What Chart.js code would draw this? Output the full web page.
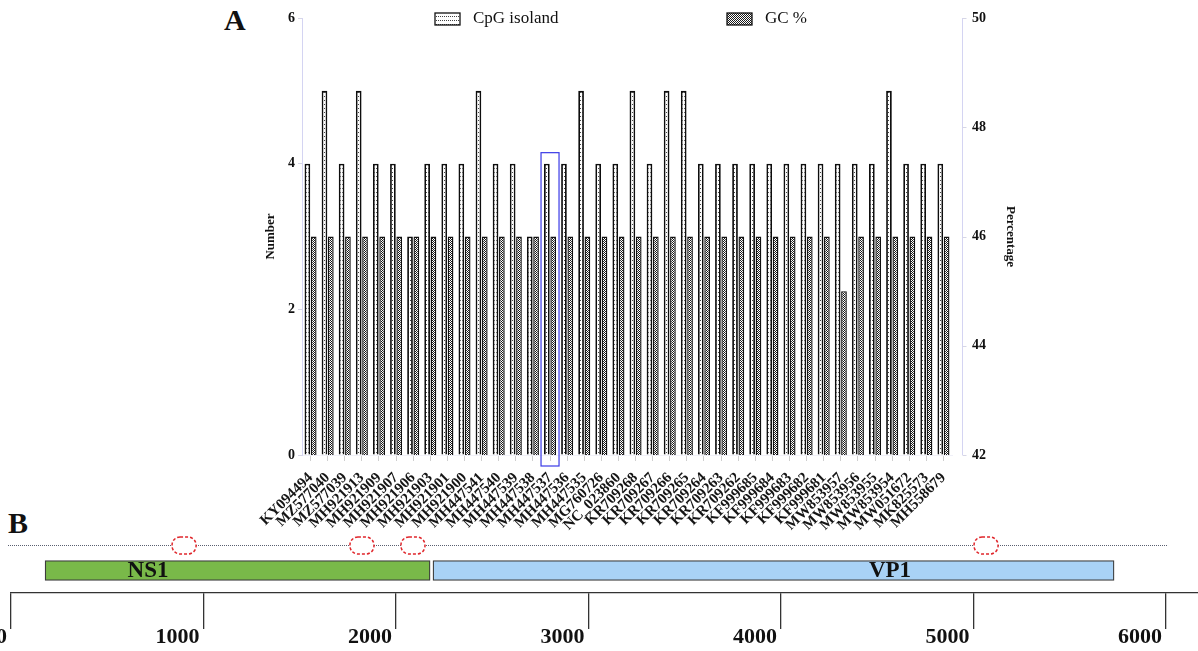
<!DOCTYPE html>
<html>
<head>
<meta charset="utf-8">
<script src="https://cdn.jsdelivr.net/npm/chart.js@4.4.1/dist/chart.umd.min.js"></script>
<style>
  html, body { margin: 0; padding: 0; background: #fff; }
  body { width: 1198px; height: 651px; position: relative; overflow: hidden; }
  .panel { position: absolute; left: 0; }
  .tag { position: absolute; font-family: 'Liberation Serif', 'Times New Roman', serif; font-weight: bold; font-size: 30px; color: #111; }
</style>
</head>
<body>
<div class="tag" style="left:224px; top:3px;">A</div>
<div class="tag" style="left:8px; top:506px;">B</div>
<div class="panel" style="top:0;"><canvas id="chartA" width="1198" height="540"></canvas></div>
<div class="panel" style="top:530px;"><canvas id="chartB" width="1198" height="121"></canvas></div>
<script>
// panel A: CpG islands and GC content per genome
const accessions = [
  'KY094494', 'MZ577040', 'MZ577039', 'MH921913', 'MH921909', 'MH921907', 'MH921906', 'MH921903',
  'MH921901', 'MH921900', 'MH447541', 'MH447540', 'MH447539', 'MH447538', 'MH447537', 'MH447536',
  'MH447535', 'MG760726', 'NC_023860', 'KR709268', 'KR709267', 'KR709266', 'KR709265', 'KR709264',
  'KR709263', 'KR709262', 'KF999685', 'KF999684', 'KF999683', 'KF999682', 'KF999681', 'MW853957',
  'MW853956', 'MW853955', 'MW853954', 'MW051672', 'MK825573', 'MH558679'
];
const cpgIslands = [4, 5, 4, 5, 4, 4, 3, 4, 4, 4, 5, 4, 4, 3, 4, 4, 5, 4, 4, 5, 4, 5, 5, 4, 4, 4, 4, 4, 4, 4, 4, 4, 4, 4, 5, 4, 4, 4];
const gcPercent = [46, 46, 46, 46, 46, 46, 46, 46, 46, 46, 46, 46, 46, 46, 46, 46, 46, 46, 46, 46, 46, 46, 46, 46, 46, 46, 46, 46, 46, 46, 46, 45, 46, 46, 46, 46, 46, 46];
const numberTicks = [0, 2, 4, 6];
const percentTicks = [42, 44, 46, 48, 50];
const highlightIndex = 14;

// panel B: genome map
const genes = ['NS1', 'VP1'];
const geneStart = [177, 2192];
const geneEnd = [2177, 5730];
const geneLabelAt = [712, 4566];
const islandSites = [899, 1823, 2088, 5065];
const genomeTicks = [0, 1000, 2000, 3000, 4000, 5000, 6000];

Chart.defaults.font.family = "'Liberation Serif', 'Times New Roman', serif";
Chart.defaults.color = '#111';

function makePattern(size, draw) {
  const c = document.createElement('canvas');
  c.width = size[0];
  c.height = size[1];
  const g = c.getContext('2d');
  g.fillStyle = '#fff';
  g.fillRect(0, 0, c.width, c.height);
  draw(g);
  return document.getElementById('chartA').getContext('2d').createPattern(c, 'repeat');
}

const dotted = makePattern([2, 4], (g) => { g.fillStyle = '#444'; g.fillRect(0, 0, 1, 1); });
const checked = makePattern([2, 2], (g) => { g.fillStyle = '#1a1a1a'; g.fillRect(0, 0, 1, 1); g.fillRect(1, 1, 1, 1); });

const legendItems = [
  { text: 'CpG isoland', fill: dotted, at: 133 },
  { text: 'GC %', fill: checked, at: 425 },
];
const rightAxisGap = 10;

const panelExtras = {
  id: 'panelExtras',
  afterDatasetsDraw(chart) {
    const { ctx, chartArea, scales } = chart;
    ctx.save();
    // right axis line sits a little away from the last bars
    const ax = chartArea.right + rightAxisGap + 0.5;
    ctx.strokeStyle = '#d4d4f2';
    ctx.lineWidth = 1;
    ctx.beginPath();
    ctx.moveTo(ax, chartArea.top);
    ctx.lineTo(ax, chartArea.bottom);
    ctx.stroke();
    ctx.strokeStyle = '#d6d6e6';
    percentTicks.forEach((v) => {
      const py = Math.round(scales.y1.getPixelForValue(v)) + 0.5;
      ctx.beginPath();
      ctx.moveTo(ax, py);
      ctx.lineTo(ax + 4, py);
      ctx.stroke();
    });
    // blue frame round the highlighted genome
    const el = chart.getDatasetMeta(0).data[highlightIndex];
    const cx = scales.x.getPixelForValue(highlightIndex);
    ctx.strokeStyle = '#3a3ae6';
    ctx.lineWidth = 1.2;
    ctx.strokeRect(cx - 9, el.y - 11, 18, chartArea.bottom + 11 - (el.y - 11));
    // legend
    ctx.font = "17px 'Liberation Serif', 'Times New Roman', serif";
    ctx.textBaseline = 'middle';
    legendItems.forEach((item) => {
      const x = chartArea.left + item.at;
      const y = chartArea.top - 5;
      ctx.fillStyle = item.fill;
      ctx.fillRect(x, y, 25, 12);
      ctx.strokeStyle = '#111';
      ctx.lineWidth = 1.3;
      ctx.strokeRect(x, y, 25, 12);
      ctx.fillStyle = '#111';
      ctx.fillText(item.text, x + 38, chartArea.top + 1);
    });
    ctx.restore();
  },
};

new Chart(document.getElementById('chartA'), {
  type: 'bar',
  data: {
    labels: accessions,
    datasets: [
      {
        label: 'CpG isoland',
        data: cpgIslands,
        yAxisID: 'y',
        backgroundColor: dotted,
        borderColor: '#0d0d0d',
        borderWidth: 1.8,
      },
      {
        label: 'GC %',
        data: gcPercent,
        yAxisID: 'y1',
        backgroundColor: checked,
        borderColor: '#111',
        borderWidth: 1.4,
      },
    ],
  },
  options: {
    responsive: false,
    animation: false,
    categoryPercentage: 0.74,
    barPercentage: 0.9,
    layout: { padding: { left: 250, right: 176, top: 18, bottom: 0 } },
    plugins: {
      legend: { display: false },
      tooltip: { enabled: false },
    },
    scales: {
      x: {
        afterFit: (s) => { s.height = 85; },
        grid: { offset: false, drawOnChartArea: false, tickLength: 6, color: '#cfcfcf' },
        border: { color: '#f0f0f8' },
        ticks: {
          autoSkip: false,
          minRotation: 45,
          maxRotation: 45,
          padding: 8,
          color: '#151515',
          font: { size: 15, weight: 'bold' },
        },
      },
      y: {
        position: 'left',
        min: 0,
        max: 6,
        afterFit: (s) => { s.width = 52; },
        afterBuildTicks: (s) => { s.ticks = numberTicks.map((v) => ({ value: v })); },
        grid: { drawOnChartArea: false, tickLength: 4, color: '#d6d6e6' },
        border: { color: '#d4d4f2' },
        ticks: { padding: 3, font: { size: 14, weight: 'bold' } },
        title: { display: true, text: 'Number', padding: { top: 13 }, font: { size: 13, weight: 'bold' } },
      },
      y1: {
        position: 'right',
        min: 42,
        max: 50,
        afterFit: (s) => { s.width = 60 + rightAxisGap; },
        afterBuildTicks: (s) => { s.ticks = percentTicks.map((v) => ({ value: v })); },
        // tick marks kept invisible here; they are drawn beside the shifted axis line
        grid: { drawOnChartArea: false, drawTicks: true, tickLength: 4 + rightAxisGap, color: 'rgba(0,0,0,0)' },
        border: { display: false },
        ticks: { padding: 6, font: { size: 14, weight: 'bold' } },
        title: { display: true, text: 'Percentage', padding: { top: 4 }, font: { size: 13, weight: 'bold' } },
      },
    },
  },
  plugins: [panelExtras],
});

const mapExtras = {
  id: 'mapExtras',
  afterDraw(chart) {
    const { ctx, chartArea, scales } = chart;
    const x = scales.x;
    const lineY = chartArea.top - 3;
    ctx.save();
    // genome backbone
    ctx.strokeStyle = '#5a5f70';
    ctx.lineWidth = 1;
    ctx.setLineDash([1, 1]);
    ctx.beginPath();
    ctx.moveTo(x.getPixelForValue(0) - 3, lineY + 0.5);
    ctx.lineTo(x.getPixelForValue(6000) + 2, lineY + 0.5);
    ctx.stroke();
    // CpG island sites
    ctx.setLineDash([3, 2]);
    ctx.strokeStyle = '#e0262b';
    ctx.lineWidth = 1.5;
    islandSites.forEach((v) => {
      const px = x.getPixelForValue(v);
      ctx.fillStyle = '#fff';
      ctx.beginPath();
      ctx.roundRect(px - 12, lineY - 8, 24, 17, 8);
      ctx.fill();
      ctx.stroke();
    });
    ctx.setLineDash([]);
    // gene names
    const bar = chart.getDatasetMeta(0).data[0];
    ctx.fillStyle = '#111';
    ctx.font = "bold 23px 'Liberation Serif', 'Times New Roman', serif";
    ctx.textAlign = 'center';
    ctx.textBaseline = 'middle';
    genes.forEach((g, i) => {
      ctx.fillText(g, x.getPixelForValue(geneLabelAt[i]), bar.y + 1);
    });
    ctx.restore();
  },
};

new Chart(document.getElementById('chartB'), {
  type: 'bar',
  data: {
    labels: ['genome'],
    datasets: [
      {
        label: 'genes',
        data: genes.map((g, i) => ({ x: [geneStart[i], geneEnd[i]], y: 'genome' })),
        backgroundColor: ['#79b949', '#a9d2f6'],
        borderColor: '#3d3d3d',
        borderWidth: 1.3,
        borderSkipped: false,
        barThickness: 20,
      },
    ],
  },
  options: {
    indexAxis: 'y',
    responsive: false,
    animation: false,
    layout: { padding: { left: 11, right: 0, top: 18, bottom: 0 } },
    plugins: {
      legend: { display: false },
      tooltip: { enabled: false },
    },
    scales: {
      y: { display: false },
      x: {
        type: 'linear',
        min: 0,
        max: 6166,
        afterFit: (s) => { s.height = 58; },
        afterBuildTicks: (s) => { s.ticks = genomeTicks.map((v) => ({ value: v })); },
        grid: { drawOnChartArea: false, tickLength: 36, color: '#333', lineWidth: 1.3 },
        border: { color: '#333', width: 1.3 },
        ticks: {
          align: 'end',
          labelOffset: -4,
          padding: -5,
          color: '#111',
          maxRotation: 0,
          font: { size: 22, weight: 'bold' },
          callback: (v) => String(v),
        },
      },
    },
  },
  plugins: [mapExtras],
});
</script>
</body>
</html>
